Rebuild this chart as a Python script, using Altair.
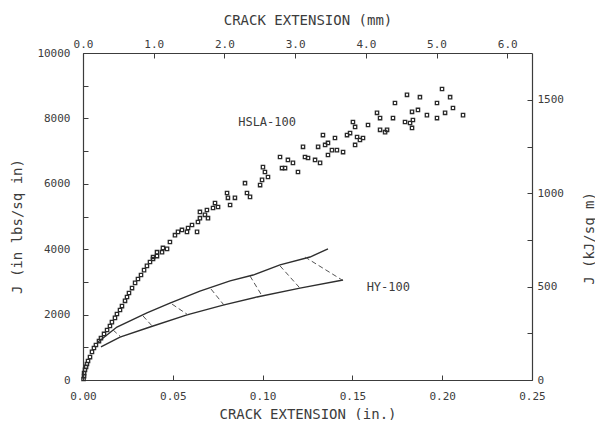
import altair as alt
import pandas as pd

# ---------------- data ----------------
hsla_x = [0.0003, 0.0006, 0.0006, 0.0011, 0.0017, 0.0022, 0.0028, 0.0039, 0.0050, 0.0061,
          0.0072, 0.0089, 0.0100, 0.0117, 0.0134, 0.0150, 0.0161, 0.0178, 0.0189, 0.0206,
          0.0217, 0.0234, 0.0245, 0.0256, 0.0273, 0.0290, 0.0306, 0.0323, 0.0340, 0.0356,
          0.0373, 0.0390, 0.0412, 0.0440, 0.0468,
          0.0390, 0.0412, 0.0445, 0.0484, 0.0512, 0.0529, 0.0551, 0.0579, 0.0585, 0.0607,
          0.0635, 0.0640, 0.0651, 0.0679, 0.0696, 0.0651, 0.0690, 0.0724, 0.0735, 0.0752,
          0.0802, 0.0807, 0.0819, 0.0846, 0.0902, 0.0913, 0.0930, 0.0986,
          0.1002, 0.1013, 0.0997, 0.1030, 0.1097, 0.1108, 0.1125, 0.1141, 0.1169, 0.1197,
          0.1225, 0.1236, 0.1253, 0.1292, 0.1320, 0.1309, 0.1336, 0.1348, 0.1364, 0.1386,
          0.1364, 0.1403, 0.1414, 0.1448, 0.1470, 0.1487, 0.1503, 0.1515, 0.1526, 0.1542,
          0.1515, 0.1559, 0.1587, 0.1637, 0.1654, 0.1654, 0.1682, 0.1726, 0.1737,
          0.1693, 0.1804, 0.1876, 0.1832, 0.1865, 0.1915, 0.1793, 0.1821, 0.1837, 0.1832,
          0.1971, 0.1971, 0.1999, 0.2016, 0.2044, 0.2060, 0.2116]
hsla_j = [30, 120, 210, 310, 400, 490, 580, 700, 860, 980,
          1070, 1190, 1280, 1410, 1530, 1650, 1770, 1900, 2020, 2140,
          2260, 2420, 2540, 2660, 2810, 2970, 3090, 3210, 3360, 3490,
          3610, 3700, 3790, 3910, 4010,
          3760, 3910, 4040, 4220, 4430, 4530, 4590, 4530, 4650, 4740,
          4530, 4830, 4950, 5050, 4950, 5140, 5200, 5260, 5410, 5290,
          5720, 5570, 5350, 5570, 6020, 5720, 5600, 5960,
          6510, 6360, 6120, 6210, 6820, 6480, 6480, 6730, 6640, 6360,
          7130, 6820, 6790, 6730, 6640, 7130, 7490, 7190, 7250, 7030,
          6880, 7400, 7030, 6970, 7490, 7550, 7890, 7740, 7430, 7340,
          7190, 7400, 7800, 8170, 8010, 7650, 7580, 8010, 8470,
          7650, 8720, 8650, 8200, 8260, 8100, 7890, 7860, 7950, 7710,
          8470, 8010, 8900, 8170, 8650, 8320, 8100]

hy_upper_x = [0.0084, 0.0189, 0.0356, 0.0484, 0.0651, 0.0819, 0.0947, 0.1097, 0.1264, 0.1364]
hy_upper_j = [1160, 1620, 2050, 2350, 2720, 3030, 3210, 3520, 3760, 4010]
hy_lower_x = [0.0100, 0.0206, 0.0373, 0.0579, 0.0780, 0.0969, 0.1208, 0.1448]
hy_lower_j = [1010, 1310, 1620, 1990, 2290, 2540, 2810, 3060]

rung_x_top = [0.0167, 0.0334, 0.0496, 0.0713, 0.0930, 0.1097, 0.1236]
rung_j_top = [1530, 1960, 2320, 2780, 3180, 3490, 3760]
rung_x_bot = [0.0212, 0.0390, 0.0585, 0.0785, 0.0997, 0.1208, 0.1442]
rung_j_bot = [1310, 1620, 1990, 2290, 2570, 2810, 3060]

label_text = ["HSLA-100", "HY-100"]
label_x = [0.1025, 0.1700]
label_j = [7890, 2850]

x_in_ticks = [0.0, 0.05, 0.10, 0.15, 0.20, 0.25]
x_mm_ticks = [0.0, 1.0, 2.0, 3.0, 4.0, 5.0, 6.0]
j_in_ticks = [0, 1000, 2000, 3000, 4000, 5000, 6000, 7000, 8000, 9000, 10000]
j_kj_ticks = [0, 250, 500, 750, 1000, 1250, 1500]

X_IN_DOMAIN = [0, 0.25]
J_IN_DOMAIN = [0, 10000]
X_MM_DOMAIN = [0, 6.35]
J_KJ_DOMAIN = [0, 1751]

# ---------------- styling ----------------
FONT = "DejaVu Sans Mono"
INK = "#3c3c3c"
TICK_IN = alt.ExprRef(expr="-5")

hsla = pd.DataFrame({"x": hsla_x, "j": hsla_j})
curves = pd.concat([
    pd.DataFrame({"x": hy_upper_x, "j": hy_upper_j, "curve": "upper"}),
    pd.DataFrame({"x": hy_lower_x, "j": hy_lower_j, "curve": "lower"}),
])
rungs = pd.DataFrame({"x": rung_x_top, "j": rung_j_top, "x2": rung_x_bot, "j2": rung_j_bot})
labels = pd.DataFrame({"x": label_x, "j": label_j, "t": label_text})

xs = alt.Scale(domain=X_IN_DOMAIN, nice=False, zero=False)
ys = alt.Scale(domain=J_IN_DOMAIN, nice=False, zero=False)

x_axis = alt.Axis(orient="bottom", values=x_in_ticks, format=".2f",
                  title="CRACK EXTENSION (in.)", tickSize=TICK_IN, labelPadding=15,
                  titleY=34, titleBaseline="middle")
y_axis = alt.Axis(orient="left", values=j_in_ticks, format="d",
                  labelExpr="datum.value % 2000 == 0 ? datum.label : ''",
                  title="J (in lbs/sq in)", tickSize=TICK_IN, labelPadding=18,
                  titleX=-66, titleY=173, titleAngle=270, titleBaseline="middle",
                  titleAlign="center")

X = alt.X("x:Q", scale=xs, axis=x_axis)
Y = alt.Y("j:Q", scale=ys, axis=y_axis)

points = alt.Chart(hsla).mark_point(shape="square", size=11, filled=False,
                                    stroke="#2a2a2a", strokeWidth=1.3, opacity=1).encode(x=X, y=Y)

lines = alt.Chart(curves).mark_line(color="#2e2e2e", strokeWidth=1.4).encode(
    x=X, y=Y, detail="curve:N")

rung_marks = alt.Chart(rungs).mark_rule(color="#555555", strokeWidth=1,
                                        strokeDash=[5, 3]).encode(
    x=X, y=Y, x2="x2:Q", y2="j2:Q")

texts = alt.Chart(labels).mark_text(font=FONT, fontSize=12, color=INK).encode(
    x=X, y=Y, text="t:N")

main = alt.layer(points, lines, rung_marks, texts)

secondary = alt.Chart(pd.DataFrame({"mm": [x_mm_ticks[0]], "kj": [j_kj_ticks[0]]})).mark_point(
    opacity=0).encode(
    x=alt.X("mm:Q", scale=alt.Scale(domain=X_MM_DOMAIN, nice=False, zero=False),
            axis=alt.Axis(orient="top", values=x_mm_ticks, format=".1f",
                          title="CRACK EXTENSION (mm)", tickSize=TICK_IN, labelPadding=9,
                          titleY=-33, titleBaseline="middle")),
    y=alt.Y("kj:Q", scale=alt.Scale(domain=J_KJ_DOMAIN, nice=False, zero=False),
            axis=alt.Axis(orient="right", values=j_kj_ticks, format="d",
                          labelExpr="datum.value % 500 == 0 ? datum.label : ''",
                          title="J (kJ/sq m)", tickSize=TICK_IN, labelPadding=10,
                          titleX=57, titleY=185, titleAngle=270, titleBaseline="middle",
                          titleAlign="center")),
)

chart = (
    alt.layer(main, secondary)
    .resolve_scale(x="independent", y="independent")
    .properties(width=449, height=327,
                autosize=alt.AutoSizeParams(type="none"),
                padding={"left": 75, "top": 45, "right": 63, "bottom": 40},
                background="white")
    .configure_view(stroke=None)
    .configure_axis(labelFont=FONT, labelFontSize=11, labelColor=INK,
                    titleFont=FONT, titleFontSize=14, titleFontWeight="normal",
                    titleColor=INK, domainColor=INK, domainWidth=1.2,
                    tickColor=INK, tickWidth=1, grid=False, labelFlush=False)
)

chart.save("out.html", embed_options={"renderer": "svg", "actions": False})
